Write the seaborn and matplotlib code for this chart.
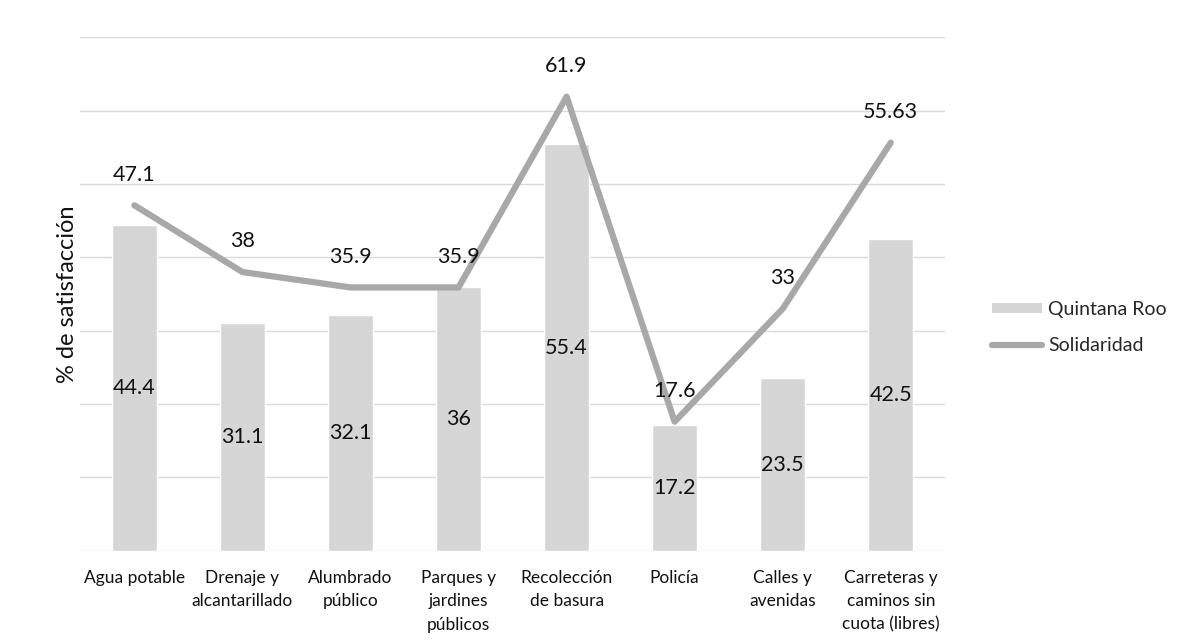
import numpy as np
import matplotlib
matplotlib.use('Agg')
import matplotlib.pyplot as plt
import seaborn as sns
from matplotlib.patches import Patch
from matplotlib.lines import Line2D

# Datos del gráfico
categorias = ['Agua potable', 'Drenaje y\nalcantarillado', 'Alumbrado\npúblico',
              'Parques y\njardines\npúblicos', 'Recolección\nde basura', 'Policía',
              'Calles y\navenidas', 'Carreteras y\ncaminos sin\ncuota (libres)']
quintana_roo = [44.4, 31.1, 32.1, 36, 55.4, 17.2, 23.5, 42.5]
solidaridad = [47.1, 38, 35.9, 35.9, 61.9, 17.6, 33, 55.63]
etiquetas_sol = ['47.1', '38', '35.9', '35.9', '61.9', '17.6', '33', '55.63']

sns.set_style('white')
plt.rcParams['font.family'] = ['Lato', 'DejaVu Sans']

fig = plt.figure(figsize=(11.81, 6.42), dpi=100)
ax = fig.add_axes([0.068, 0.142, 0.732, 0.800])

color_barra = '#d6d6d6'
color_linea = '#a8a8a8'

pos = np.arange(len(categorias))
sns.barplot(x=pos, y=quintana_roo, color=color_barra, width=0.42,
            saturation=1, ax=ax, zorder=2)
sns.lineplot(x=pos, y=solidaridad, color=color_linea, linewidth=4.5,
             ax=ax, zorder=3, solid_capstyle='round')

# etiquetas de barras (centradas)
for i, v in enumerate(quintana_roo):
    ax.text(i, v / 2, f'{v:g}', ha='center', va='center', fontsize=15.5, color='#111111', zorder=4)

# etiquetas de la linea
for i, (v, t) in enumerate(zip(solidaridad, etiquetas_sol)):
    ax.annotate(t, (i, v), xytext=(0, 22), textcoords='offset points',
                ha='center', va='center', fontsize=15.5, color='#111111', zorder=4)

ax.set_ylim(0, 70)
ax.set_xlim(-0.5, len(categorias) - 0.5)
ax.set_yticks(np.arange(0, 71, 10))
ax.set_yticklabels([])
ax.tick_params(axis='y', length=0, pad=0)
ax.tick_params(axis='x', length=0, pad=14)
ax.set_xticks(pos)
ax.set_xticklabels(categorias, fontsize=12.5, color='#111111', linespacing=1.55, va='top')
ax.yaxis.grid(True, color='#d9d9d9', linewidth=1)
ax.set_axisbelow(True)
for s in ax.spines.values():
    s.set_visible(False)

ax.set_ylabel('% de satisfacción', fontsize=17, color='#111111', labelpad=2)
ax.set_xlabel('')

handles = [Patch(facecolor=color_barra, edgecolor='none'),
           Line2D([0], [0], color=color_linea, linewidth=4.5)]
fig.legend(handles, ['Quintana Roo', 'Solidaridad'], loc='center left',
           bbox_to_anchor=(0.825, 0.49), frameon=False, fontsize=14,
           handlelength=2.6, handleheight=0.45, labelspacing=1.0, handletextpad=0.3)

fig.savefig('out.png', dpi=100)
